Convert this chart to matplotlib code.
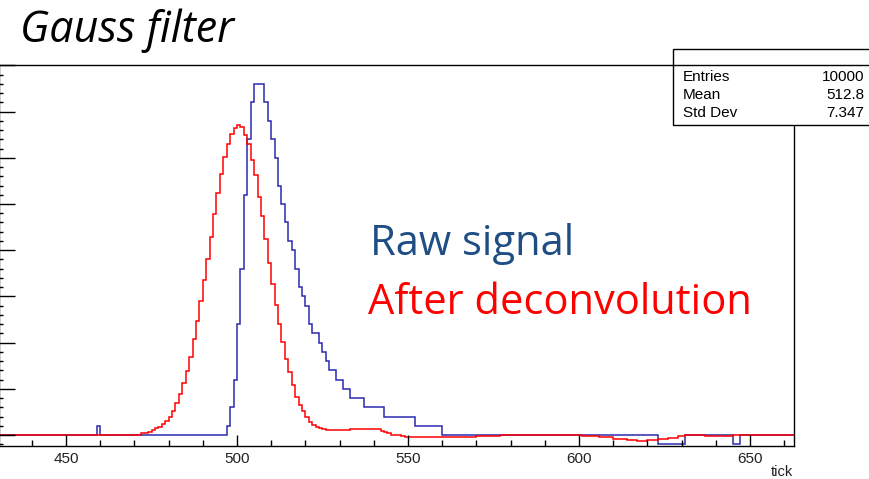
import numpy as np
import matplotlib.pyplot as plt
from matplotlib.ticker import MultipleLocator
from matplotlib.patches import Rectangle
from matplotlib.lines import Line2D

# tick axis: one bin per tick, first bin starts at 430
first_tick = 430
n_bins = 233

# raw signal (ADC counts), pieces from left to right
raw_signal = ([0] * 29 + [1] + [0] * 37 +
              [1, 3, 6, 12, 18, 26, 32, 36, 38, 38, 38, 36, 34, 32, 30, 27, 25, 23, 21, 20,
               18, 16, 15, 14, 12, 11, 11, 10, 9, 8, 7, 7, 6, 6, 5, 5, 4, 4, 4, 4] +
              [3] * 6 + [2] * 9 + [1] * 8 +
              [0] * 63 + [-1] * 8 + [0] * 14 + [-1] * 2 + [0] * 16)

# after deconvolution
deconv_signal = ([0] * 42 +
                 [0.18, 0.18, 0.36, 0.54, 0.72, 0.9, 1.15, 1.52, 1.98, 2.6, 3.5, 4.43, 5.6, 6.93,
                  8.45, 10.35, 12.3, 14.45, 16.75, 19.1, 21.45, 23.9, 26.2, 28.25, 30.1, 31.5,
                  32.6, 33.2, 33.6, 33.3, 32.45, 31.45, 29.75, 28.15, 25.8, 23.65, 21.2, 18.6,
                  16.3, 14.05, 12.0, 10.1, 8.2, 6.8, 5.4, 4.15, 3.25, 2.63, 1.91, 1.44, 1.08,
                  0.9, 0.72, 0.61] +
                 [0.55] * 7 + [0.65] * 9 + [0.45, 0.3, 0.18] + [0.05] * 3 + [-0.1] +
                 [-0.17] * 5 + [-0.27] * 11 + [-0.17] * 5 + [-0.07] * 7 + [0] * 24 +
                 [-0.1] * 5 + [-0.25] * 4 + [-0.4] * 4 + [-0.54] * 3 + [-0.65] * 3 +
                 [-0.58] * 3 + [-0.45] * 3 + [-0.3] * 3 + [-0.15] * 2 + [-0.05] * 2 +
                 [0] * 4 + [-0.15] * 8 + [0] * 18)

stats_names = ['Entries', 'Mean', 'Std Dev']
stats_values = ['10000', '512.8', '7.347']

W, H = 869, 479
fig = plt.figure(figsize=(W / 100, H / 100), dpi=100)
ax = fig.add_axes([-1 / W, 33 / H, 795 / W, (446 - 65.4) / H])

edges = np.arange(first_tick, first_tick + n_bins + 1)
ax.stairs(raw_signal, edges, baseline=None, color='#2a2ab0', lw=1.1)
ax.stairs(deconv_signal, edges, baseline=None, color='#ff0000', lw=1.1)

ax.set_xlim(430.4, 662.9)
ax.set_ylim(-1.19, 40)
ax.xaxis.set_major_locator(MultipleLocator(50))
ax.xaxis.set_minor_locator(MultipleLocator(10))
ax.yaxis.set_major_locator(MultipleLocator(5))
ax.yaxis.set_minor_locator(MultipleLocator(1))
ax.tick_params(axis='x', which='major', direction='in', length=8, width=1, pad=4.5,
               labelsize=11, labelcolor='#222222')
ax.tick_params(axis='x', which='minor', direction='in', length=4, width=1)
ax.tick_params(axis='y', which='major', direction='in', length=11.5, width=1, labelleft=False)
ax.tick_params(axis='y', which='minor', direction='in', length=3, width=1)
for lab in ax.get_xticklabels():
    lab.set_fontfamily('Liberation Sans')
for s in ax.spines.values():
    s.set_linewidth(1)

fig.text(793 / W, 1 - 476 / H, 'tick', ha='right', va='baseline',
         fontsize=10.5, family='Liberation Sans', color='#222222')

# stats box
fig.patches.append(Rectangle((673 / W, 1 - 125 / H), 200 / W, 76 / H, transform=fig.transFigure,
                             facecolor='white', edgecolor='black', lw=1, zorder=5))
fig.lines.append(Line2D([673 / W, 1], [1 - 65.4 / H, 1 - 65.4 / H], transform=fig.transFigure,
                        color='black', lw=1, zorder=6))
for name, val, yy in zip(stats_names, stats_values, [77, 95, 113]):
    fig.text(683 / W, 1 - yy / H, name, ha='left', va='center', fontsize=11,
             family='Liberation Sans', zorder=7)
    fig.text(864 / W, 1 - yy / H, val, ha='right', va='center', fontsize=11,
             family='Liberation Sans', zorder=7)

fig.text(20 / W, 1 - 41.7 / H, 'Gauss filter', ha='left', va='baseline', fontsize=31,
         family='Open Sans', style='italic', color='black')
fig.text(370 / W, 1 - 255 / H, 'Raw signal', ha='left', va='baseline', fontsize=30,
         family='Open Sans', color='#1f4e85')
fig.text(368 / W, 1 - 314 / H, 'After deconvolution', ha='left', va='baseline', fontsize=30,
         family='Open Sans', color='#ff0000')

fig.savefig('out.png', dpi=100)
